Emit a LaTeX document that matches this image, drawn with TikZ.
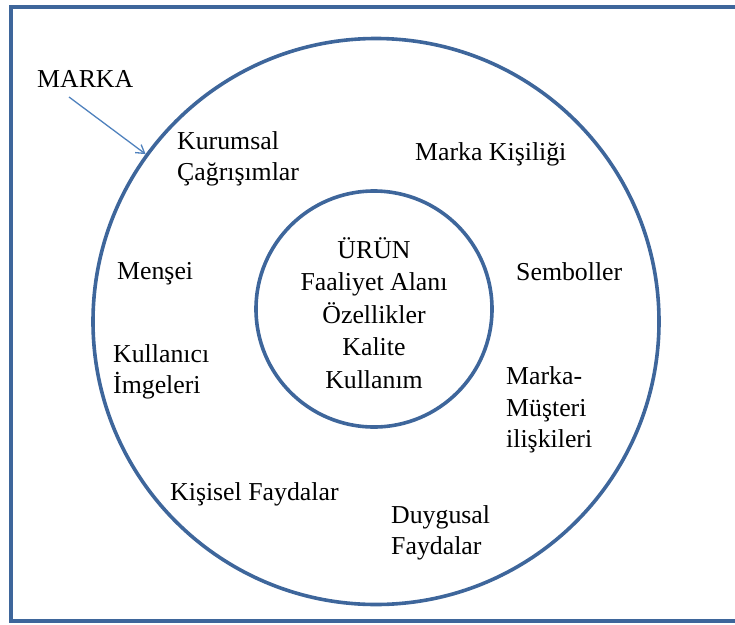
\documentclass[tikz,border=0pt]{standalone}
\usepackage{fontspec}
\setmainfont{Liberation Serif}
\usetikzlibrary{arrows.meta}
\definecolor{ringblue}{RGB}{62,102,155}
\definecolor{arrowblue}{RGB}{79,129,189}
\begin{document}
\begin{tikzpicture}[x=1pt,y=-1pt,
  ring/.style={circle, draw=ringblue, line width=3.6pt, inner sep=0pt},
  lbl/.style={inner sep=0pt, align=left, anchor=west, font=\fontsize{25.8}{31.5}\selectfont},
  ctr/.style={inner sep=0pt, align=center, font=\fontsize{25.8}{32.5}\selectfont},
  pointer/.style={draw=arrowblue, line width=1.3pt, -{Straight Barb[length=8pt,width=10pt]}}]
  \useasboundingbox (0,0) rectangle (735,624);
  \clip (0,0) rectangle (735,624);
  % frame
  \draw[ringblue, line width=3.4pt] (11,7) rectangle (745,621);
  % rings
  \node[ring, minimum size=566pt] (outer) at (376,321.5) {};
  \node[ring, minimum size=236pt] (inner) at (374,309) {};
  % core
  \node[ctr] (core) at (374,313) {ÜRÜN\\Faaliyet Alanı\\Özellikler\\Kalite\\Kullanım};
  % outer ring labels
  \node[lbl] (marka) at (37,79) {MARKA};
  \node[lbl] (kurumsal) at (177,159) {Kurumsal\\Çağrışımlar};
  \node[lbl] (kisilik) at (415,154) {Marka Kişiliği};
  \node[lbl] (mensei) at (117,274) {Menşei};
  \node[lbl] (sembol) at (516,272) {Semboller};
  \node[lbl] (kullanici) at (113,372) {Kullanıcı\\İmgeleri};
  \node[lbl] (iliski) at (506,410) {Marka-\\Müşteri\\ilişkileri};
  \node[lbl] (kisisel) at (170,494) {Kişisel Faydalar};
  \node[lbl] (duygusal) at (391,533) {Duygusal\\Faydalar};
  % pointer from the brand label to the outer ring
  \coordinate (tail) at (69,97);
  \draw[pointer] (tail) -- (outer.144.6);
\end{tikzpicture}
\end{document}
